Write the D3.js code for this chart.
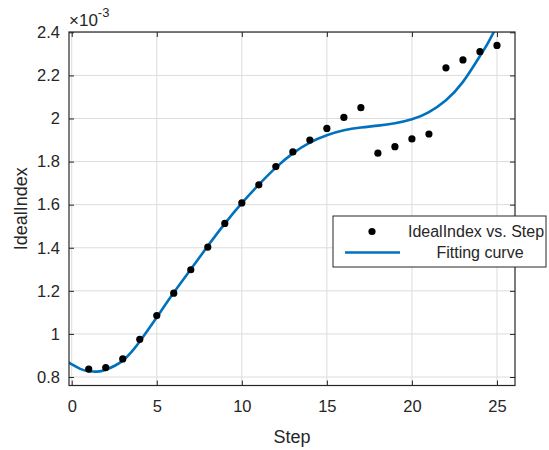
<!DOCTYPE html>
<html>
<head>
<meta charset="utf-8">
<script src="https://cdn.jsdelivr.net/npm/d3@7"></script>
<style>
  body { margin: 0; background: #fff; }
  text { font-family: "Liberation Sans", Arial, sans-serif; fill: #262626; }
</style>
</head>
<body>
<div id="container"></div>
<script>
const width = 549,
  height = 450

// plot box in pixels
const boxLeft = 69, boxRight = 515, boxTop = 32, boxBottom = 385.5

/* DATA (values in units of 1e-3) */
const steps = d3.range(1, 26)
const idealIndex = [0.837, 0.844, 0.884, 0.975, 1.085, 1.189, 1.298, 1.403, 1.513, 1.608,
  1.692, 1.777, 1.845, 1.900, 1.954, 2.005, 2.050, 1.839, 1.869, 1.905,
  1.928, 2.235, 2.272, 2.310, 2.339]

// fitting curve
const curveSteps = [-0.2, 0, 0.5, 1, 1.5, 2, 3, 4, 5, 6, 7, 8, 9, 10, 11, 12, 13, 14,
  15, 16, 17, 18, 19, 20, 21, 22, 23, 24, 24.5, 25]
const curveValues = [0.868, 0.859, 0.838, 0.827, 0.825, 0.834, 0.876, 0.965, 1.077, 1.192,
  1.300, 1.408, 1.512, 1.607, 1.693, 1.772, 1.838, 1.888, 1.922, 1.945, 1.958, 1.967,
  1.978, 1.996, 2.030, 2.085, 2.170, 2.290, 2.355, 2.430]

const xTicks = [0, 5, 10, 15, 20, 25]
const yTicks = [0.8, 1, 1.2, 1.4, 1.6, 1.8, 2, 2.2, 2.4]

/* SCALES */
const xScale = d3.scaleLinear()
  .domain([-0.16, 26.06])
  .range([boxLeft, boxRight])

const yScale = d3.scaleLinear()
  .domain([0.7606, 2.4015])
  .range([boxBottom, boxTop])

const svg = d3.select("#container").append("svg")
  .attr("width", width)
  .attr("height", height)

// grid
svg.append("g")
  .selectAll("line")
  .data(xTicks)
  .join("line")
  .attr("x1", d => xScale(d)).attr("x2", d => xScale(d))
  .attr("y1", boxTop).attr("y2", boxBottom)
  .attr("stroke", "#dcdcdc")

svg.append("g")
  .selectAll("line")
  .data(yTicks)
  .join("line")
  .attr("x1", boxLeft).attr("x2", boxRight)
  .attr("y1", d => yScale(d)).attr("y2", d => yScale(d))
  .attr("stroke", "#dcdcdc")

/* AXES (ticks pointing inward, box on) */
const fontSize = "16.5px"

const xAxis = svg.append("g")
  .attr("transform", `translate(0, ${boxBottom})`)
  .call(d3.axisBottom(xScale).tickValues(xTicks).tickSize(-5).tickPadding(15))
xAxis.select(".domain").remove()

const xAxisTop = svg.append("g")
  .attr("transform", `translate(0, ${boxTop})`)
  .call(d3.axisTop(xScale).tickValues(xTicks).tickSize(-5).tickFormat(""))
xAxisTop.select(".domain").remove()

const yAxis = svg.append("g")
  .attr("transform", `translate(${boxLeft}, 0)`)
  .call(d3.axisLeft(yScale).tickValues(yTicks).tickSize(-5).tickPadding(9).tickFormat(d3.format("")))
yAxis.select(".domain").remove()

const yAxisRight = svg.append("g")
  .attr("transform", `translate(${boxRight}, 0)`)
  .call(d3.axisRight(yScale).tickValues(yTicks).tickSize(-5).tickFormat(""))
yAxisRight.select(".domain").remove()

svg.selectAll(".tick line").attr("stroke", "#262626")
svg.selectAll(".tick text")
  .attr("font-size", fontSize)
  .attr("font-family", "Liberation Sans, Arial, sans-serif")
  .attr("fill", "#262626")

/* CURVE */
svg.append("clipPath").attr("id", "plotClip")
  .append("rect")
  .attr("x", boxLeft).attr("y", boxTop)
  .attr("width", boxRight - boxLeft).attr("height", boxBottom - boxTop)

const line = d3.line()
  .x((d, i) => xScale(curveSteps[i]))
  .y(d => yScale(d))
  .curve(d3.curveNatural)

svg.append("path")
  .datum(curveValues)
  .attr("clip-path", "url(#plotClip)")
  .attr("d", line)
  .attr("fill", "none")
  .attr("stroke", "#0072BD")
  .attr("stroke-width", 2.6)

/* POINTS */
svg.selectAll("circle.dot")
  .data(idealIndex)
  .join("circle")
  .attr("class", "dot")
  .attr("cx", (d, i) => xScale(steps[i]))
  .attr("cy", d => yScale(d))
  .attr("r", 3.6)
  .attr("fill", "#000")

// box
svg.append("rect")
  .attr("x", boxLeft).attr("y", boxTop)
  .attr("width", boxRight - boxLeft).attr("height", boxBottom - boxTop)
  .attr("fill", "none")
  .attr("stroke", "#262626")
  .attr("stroke-width", 1.2)

/* LABELS */
svg.append("text")
  .attr("x", (boxLeft + boxRight) / 2)
  .attr("y", 443)
  .attr("text-anchor", "middle")
  .attr("font-size", "18px")
  .text("Step")

svg.append("text")
  .attr("transform", `translate(27, ${(boxTop + boxBottom) / 2}) rotate(-90)`)
  .attr("text-anchor", "middle")
  .attr("font-size", "18px")
  .text("IdealIndex")

const expo = svg.append("text")
  .attr("x", 69)
  .attr("y", 26)
  .attr("font-size", "17px")
expo.append("tspan").text("\u00d710")
expo.append("tspan")
  .attr("dy", -9)
  .attr("font-size", "13px")
  .text("-3")

/* LEGEND */
const legend = svg.append("g")
legend.append("rect")
  .attr("x", 333).attr("y", 216)
  .attr("width", 213).attr("height", 51)
  .attr("fill", "#fff")
  .attr("stroke", "#262626")
  .attr("stroke-width", 1)

legend.append("circle")
  .attr("cx", 372).attr("cy", 231.5)
  .attr("r", 3.6)
  .attr("fill", "#000")

legend.append("line")
  .attr("x1", 345).attr("x2", 400)
  .attr("y1", 252.5).attr("y2", 252.5)
  .attr("stroke", "#0072BD")
  .attr("stroke-width", 2.6)

legend.append("text")
  .attr("x", 476).attr("y", 237)
  .attr("text-anchor", "middle")
  .attr("font-size", "16px")
  .text("IdealIndex vs. Step")

legend.append("text")
  .attr("x", 480).attr("y", 258)
  .attr("text-anchor", "middle")
  .attr("font-size", "16px")
  .text("Fitting curve")
</script>
</body>
</html>
